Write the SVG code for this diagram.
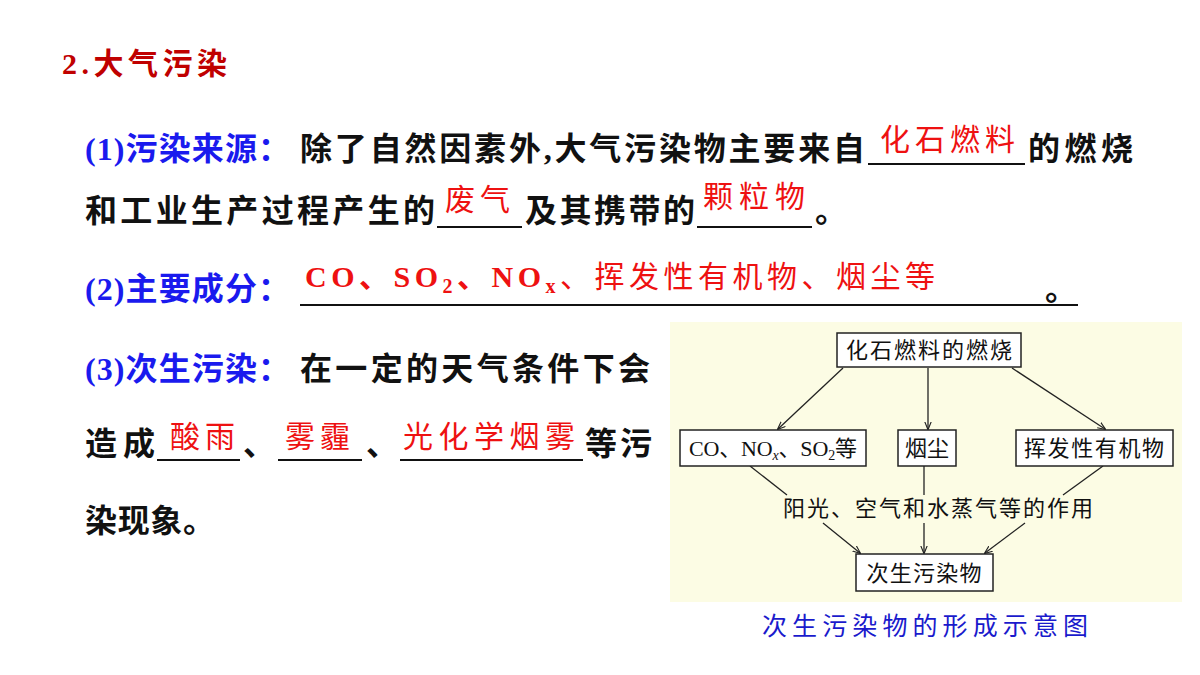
<svg xmlns="http://www.w3.org/2000/svg" width="1200" height="675" viewBox="0 0 1200 675">
<defs>
<marker id="ah" viewBox="0 0 10 10" refX="9" refY="5" markerWidth="8" markerHeight="8" orient="auto" markerUnits="userSpaceOnUse"><path d="M0,1 L10,5 L0,9" fill="none" stroke="#222" stroke-width="1.4"/></marker>
<style>
.b{font-family:"Liberation Serif","Noto Sans CJK SC",serif;font-weight:bold;font-size:32px;fill:#111}
.bl{fill:#1a1aee}
.r{font-family:"Liberation Serif","Noto Sans CJK SC",serif;font-size:30px;fill:#ee1111}
.u{stroke:#111;stroke-width:2}
.n{fill:#fff;stroke:#222;stroke-width:1.5}
.nt{font-family:"Liberation Serif","Noto Sans CJK SC",serif;font-size:22px;fill:#111;text-anchor:middle}
.c{stroke:#222;stroke-width:1.3;fill:none}
</style>
</defs>
<rect width="1200" height="675" fill="#fff"/>
<text x="62" y="74" class="b" style="fill:#c00000;font-size:30px" textLength="165">2.大气污染</text>
<text x="85" y="160" class="b bl" textLength="205">(1)污染来源：</text>
<text x="300" y="160" class="b" textLength="565">除了自然因素外,大气污染物主要来自</text>
<line x1="868" y1="164" x2="1025" y2="164" class="u"/>
<text x="880" y="150" class="r" textLength="135">化石燃料</text>
<text x="1028" y="160" class="b" textLength="105">的燃烧</text>
<text x="85" y="222" class="b" textLength="350">和工业生产过程产生的</text>
<line x1="437" y1="227" x2="522" y2="227" class="u"/>
<text x="445" y="210" class="r" textLength="65">废气</text>
<text x="525" y="222" class="b" textLength="170">及其携带的</text>
<line x1="697" y1="227" x2="812" y2="227" class="u"/>
<text x="703" y="207" class="r" textLength="102">颗粒物</text>
<text x="815" y="222" class="b">。</text>
<text x="85" y="300" class="b bl" textLength="205">(2)主要成分：</text>
<line x1="300" y1="305" x2="1078" y2="305" class="u"/>
<text x="305" y="287" class="r" style="font-weight:bold" textLength="630">CO、SO<tspan font-size="20" dy="6">2</tspan><tspan dy="-6">、NO</tspan><tspan font-size="20" dy="6">x</tspan><tspan dy="-6" font-weight="normal">、挥发性有机物、烟尘等</tspan></text>
<text x="1045" y="300" class="b">。</text>
<text x="85" y="380" class="b bl" textLength="205">(3)次生污染：</text>
<text x="300" y="380" class="b" textLength="350">在一定的天气条件下会</text>
<text x="85" y="455" class="b" textLength="70">造成</text>
<line x1="157" y1="460" x2="240" y2="460" class="u"/>
<text x="170" y="447" class="r" textLength="65">酸雨</text>
<text x="243" y="455" class="b">、</text>
<line x1="278" y1="460" x2="362" y2="460" class="u"/>
<text x="285" y="447" class="r" textLength="65">雾霾</text>
<text x="366" y="455" class="b">、</text>
<line x1="400" y1="460" x2="583" y2="460" class="u"/>
<text x="403" y="447" class="r" textLength="172">光化学烟雾</text>
<text x="585" y="455" class="b" textLength="67">等污</text>
<text x="85" y="532" class="b" textLength="130">染现象。</text>
<rect x="670" y="322" width="512" height="280" fill="#fcfce4"/>
<g id="connectors">
<line x1="843" y1="368" x2="778" y2="429" class="c" marker-end="url(#ah)"/>
<line x1="928" y1="368" x2="928" y2="429" class="c" marker-end="url(#ah)"/>
<line x1="1012" y1="368" x2="1105" y2="429" class="c" marker-end="url(#ah)"/>
<line x1="750" y1="466" x2="787" y2="495" class="c"/>
<line x1="823" y1="523" x2="860" y2="553" class="c" marker-end="url(#ah)"/>
<line x1="924" y1="466" x2="924" y2="495" class="c"/>
<line x1="924" y1="523" x2="924" y2="553" class="c" marker-end="url(#ah)"/>
<line x1="1103" y1="466" x2="1063" y2="495" class="c"/>
<line x1="1025" y1="523" x2="985" y2="553" class="c" marker-end="url(#ah)"/>
</g>
<g id="n1"><rect x="837" y="333" width="184" height="34" class="n"/><text x="929" y="358" class="nt" textLength="166">化石燃料的燃烧</text></g>
<g id="n2"><rect x="680" y="430" width="186" height="36" class="n"/><text x="773" y="456" class="nt" textLength="168">CO、NO<tspan font-size="14" font-style="italic" dy="4">x</tspan><tspan dy="-4">、SO</tspan><tspan font-size="14" dy="4">2</tspan><tspan dy="-4">等</tspan></text></g>
<g id="n3"><rect x="898" y="430" width="58" height="36" class="n"/><text x="927" y="456" class="nt">烟尘</text></g>
<g id="n4"><rect x="1016" y="430" width="157" height="36" class="n"/><text x="1094" y="456" class="nt" textLength="140">挥发性有机物</text></g>
<g id="n5"><rect x="856" y="554" width="137" height="37" class="n"/><text x="924" y="581" class="nt" textLength="115">次生污染物</text></g>
<text x="938" y="516" class="nt" textLength="310">阳光、空气和水蒸气等的作用</text>
<text x="925" y="635" style="font-family:'Liberation Serif','Noto Sans CJK SC',serif;font-size:25px;fill:#1a1acc;text-anchor:middle" textLength="326">次生污染物的形成示意图</text>
</svg>
